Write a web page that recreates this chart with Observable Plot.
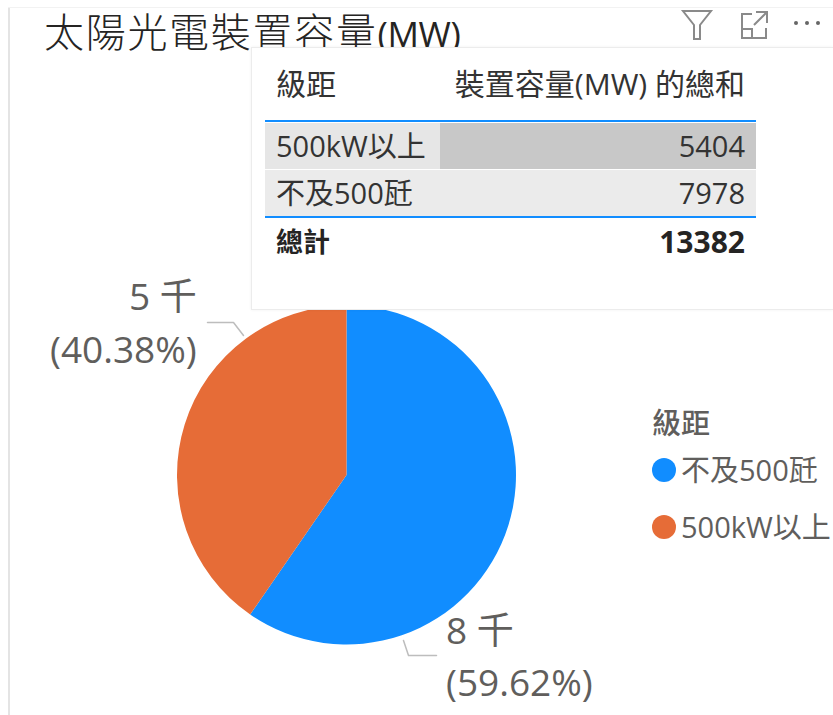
<!DOCTYPE html>
<html lang="zh-Hant">
<head>
<meta charset="utf-8">
<script src="https://cdn.jsdelivr.net/npm/d3@7"></script>
<script src="https://cdn.jsdelivr.net/npm/@observablehq/plot@0.6"></script>
<style>
html,body{margin:0;padding:0;background:#fff;width:833px;height:715px;overflow:hidden}
body{position:relative;font-family:"Open Sans","Noto Sans CJK TC",sans-serif;color:#252423}
#chart{position:absolute;left:0;top:0}
.abs{position:absolute;white-space:nowrap}
#frameL{left:8px;top:8px;width:2px;height:707px;background:#e4e4e4}
#frameT{left:8px;top:7px;width:825px;height:1px;background:#f2f2f2}
#title{left:44px;top:4px;font:300 40px/52px "Noto Sans CJK TC",sans-serif;color:#252423;letter-spacing:1.7px}
#title span{font-family:"Open Sans";font-weight:400;letter-spacing:-.4px;font-size:35px}
#panel{left:251px;top:47px;width:582px;height:263px;background:#fff;border:1px solid #ececec;border-right:none;box-sizing:border-box;box-shadow:0 0 3px rgba(0,0,0,.06)}
.cell{position:absolute;box-sizing:border-box;font-size:29px;line-height:46px;height:46px;white-space:nowrap;font-weight:400}
.rule{position:absolute;left:13px;width:491px;height:2px;background:#118dff}
#legend div{position:absolute;white-space:nowrap}
.sw{width:24px;height:24px;border-radius:50%}
.lt{font-size:29px;line-height:36px;color:#605e5c}
</style>
</head>
<body>
<div id="chart"></div>
<div class="abs" id="frameL"></div>
<div class="abs" id="frameT"></div>
<div class="abs" id="title">太陽光電裝置容量<span>(MW)</span></div>
<svg class="abs" style="left:680px;top:6px" width="150" height="36" fill="none" stroke="#8a8a8a" stroke-width="2">
  <path d="M3 5H31L20 19V33H14V19Z"/>
  <path d="M72 8H62V32H86V22M62 23H72V32M76 6H87V17M87 6L74 19"/>
  <g fill="#666" stroke="none"><circle cx="116" cy="17" r="2"/><circle cx="127" cy="17" r="2"/><circle cx="138" cy="17" r="2"/></g>
</svg>
<div class="abs" id="panel"></div>
<div id="legend"></div>
<script>
const categories = ["不及500瓩", "500kW以上"];
const capacityMW = [7978, 5404];
const shortLabels = ["8 千", "5 千"];
const percentLabels = ["(59.62%)", "(40.38%)"];
const colors = ["#118dff", "#e66c37"];
const tableRows = ["500kW以上", "不及500瓩"];
const tableValues = [5404, 7978];
const tableTotal = 13382;
const tableHeaders = ["級距", "裝置容量(MW) 的總和"];
const totalLabel = "總計";
const legendTitle = "級距";

// Pie geometry, in chart pixels relative to the pie's centre
const R = 169.5;
const W = 833, H = 715, cx = 346.5, cy = 475;
const arcs = d3.pie().sort(null)(capacityMW);
const slices = categories.map((c, i) => ({c, color: colors[i], arc: arcs[i]}));

const pieMark = (index, {x, y}) => {
  const g = d3.create("svg:g").attr("transform", `translate(${x(0)},${y(0)})`);
  const path = d3.arc().innerRadius(0).outerRadius(R);
  g.selectAll("path").data(slices).join("path")
    .attr("d", d => path(d.arc)).attr("fill", d => d.color);
  return g.node();
};

const leaders = [
  {s: 0, pts: [[56.5, 165], [61.5, 180], [89.5, 180]]},
  {s: 1, pts: [[-139.5, -153], [-113.5, -153], [-103.5, -140]]}
].flatMap(l => l.pts.map(([px, py]) => ({s: l.s, px, py})));

const labels = [
  {t: shortLabels[1], x: -218, y: -177},
  {t: percentLabels[1], x: -297, y: -124},
  {t: shortLabels[0], x: 99, y: 157},
  {t: percentLabels[0], x: 99, y: 209}
];

const svg = Plot.plot({
  width: W, height: H, margin: 0,
  x: {domain: [-cx, W - cx], range: [0, W], axis: null},
  y: {domain: [-cy, H - cy], range: [0, H], axis: null},
  style: {background: "transparent"},
  marks: [
    pieMark,
    Plot.line(leaders, {x: "px", y: "py", z: "s", stroke: "#bdbdbd", strokeWidth: 1.5, curve: "linear"}),
    Plot.text(labels, {x: "x", y: "y", text: "t", textAnchor: "start", fontSize: 37, fontWeight: 400,
      fill: "#605e5c", fontFamily: "'Open Sans','Noto Sans CJK TC',sans-serif"})
  ]
});
document.getElementById("chart").append(svg);

// Table panel
const panel = document.getElementById("panel");
const add = (css, text, bold) => {
  const d = document.createElement("div");
  d.className = "cell";
  d.style.cssText = css;
  if (text !== undefined) d.textContent = text;
  if (bold) d.style.fontWeight = 700;
  panel.append(d);
};
add("left:24px;top:13px;color:#333;font-size:30px;", tableHeaders[0]);
add("right:88px;top:13px;color:#333;font-size:30px;", tableHeaders[1]);
const rule = t => { const r = document.createElement("div"); r.className = "rule"; r.style.top = t + "px"; panel.append(r); };
rule(72); rule(168);
const rowBg = [["#e6e6e6", "#c8c8c8"], ["#ebebeb", "#ebebeb"]];
const rowTop = [75, 122];
tableRows.forEach((r, i) => {
  add(`left:13px;top:${rowTop[i]}px;width:175px;background:${rowBg[i][0]};padding-left:11px;color:#333;`, r);
  add(`left:188px;top:${rowTop[i]}px;width:316px;background:${rowBg[i][1]};padding-right:11px;text-align:right;color:#333;`, tableValues[i]);
});
add("left:24px;top:171px;color:#252423;font-size:27px;", totalLabel, true);
add("left:188px;top:171px;width:316px;padding-right:11px;text-align:right;color:#252423;font-size:30px;", tableTotal, true);

// Legend
const legend = document.getElementById("legend");
const lt = document.createElement("div");
lt.className = "lt";
lt.style.cssText = "left:652px;top:403px;font-weight:500;font-family:'Noto Sans CJK TC';";
lt.textContent = legendTitle;
legend.append(lt);
categories.forEach((c, i) => {
  const top = [470, 527][i];
  const s = document.createElement("div");
  s.className = "sw";
  s.style.cssText = `left:652px;top:${top - 12}px;background:${colors[i]}`;
  legend.append(s);
  const t = document.createElement("div");
  t.className = "lt";
  t.style.cssText = `left:681px;top:${top - 18}px;font-weight:400`;
  t.textContent = c;
  legend.append(t);
});
</script>
</body>
</html>
